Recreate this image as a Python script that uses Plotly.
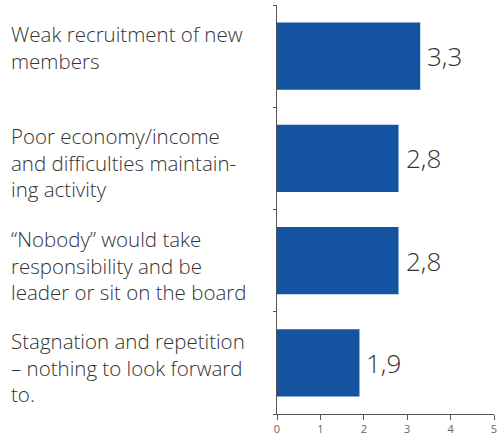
import plotly.graph_objects as go

categories = [
    "Weak recruitment of new<br>members",
    "Poor economy/income<br>and difficulties maintain-<br>ing activity",
    "“Nobody” would take<br>responsibility and be<br>leader or sit on the board",
    "Stagnation and repetition<br>– nothing to look forward<br>to.",
]
values = [3.3, 2.8, 2.8, 1.9]
keys = ["c1", "c2", "c3", "c4"]
x_ticks = [0, 1, 2, 3, 4, 5]

BAR = "#14539F"
TXT = "#333333"

fig = go.Figure(go.Bar(
    x=values, y=keys, orientation="h",
    marker=dict(color=BAR, line=dict(width=0)),
    hoverinfo="skip",
))

annotations = []
for k, lab, v in zip(keys, categories, values):
    annotations.append(dict(
        x=-1.2305, xref="paper", y=k, yref="y",
        text=lab, showarrow=False, xanchor="left", yanchor="top",
        align="left", yshift=37, borderpad=0,
        font=dict(family="Open Sans", size=20.5, color=TXT, weight=300),
    ))
    annotations.append(dict(
        x=v, xref="x", y=k, yref="y",
        text=f"{v:.1f}".replace(".", ","), showarrow=False,
        xanchor="left", yanchor="middle", xshift=6, borderpad=0,
        font=dict(family="Open Sans", size=26, color=TXT, weight=300),
    ))

fig.update_layout(
    width=497, height=441,
    margin=dict(l=277, r=0, t=5, b=27),
    paper_bgcolor="white", plot_bgcolor="white",
    bargap=0.34, showlegend=False,
    annotations=annotations,
    xaxis=dict(range=[0, 5], tickvals=x_ticks, showgrid=False, zeroline=False,
               showline=True, linecolor="#555555", linewidth=1,
               ticks="outside", ticklen=5, tickcolor="#555555",
               ticklabeloverflow="allow",
               tickfont=dict(family="Open Sans", size=11, color="#666666")),
    yaxis=dict(categoryorder="array", categoryarray=keys[::-1],
               showticklabels=False, showgrid=False, zeroline=False,
               showline=True, linecolor="#555555", linewidth=1,
               ticks="outside", ticklen=3, tickcolor="#555555",
               tickson="boundaries"),
)

fig.write_html("out.html")
